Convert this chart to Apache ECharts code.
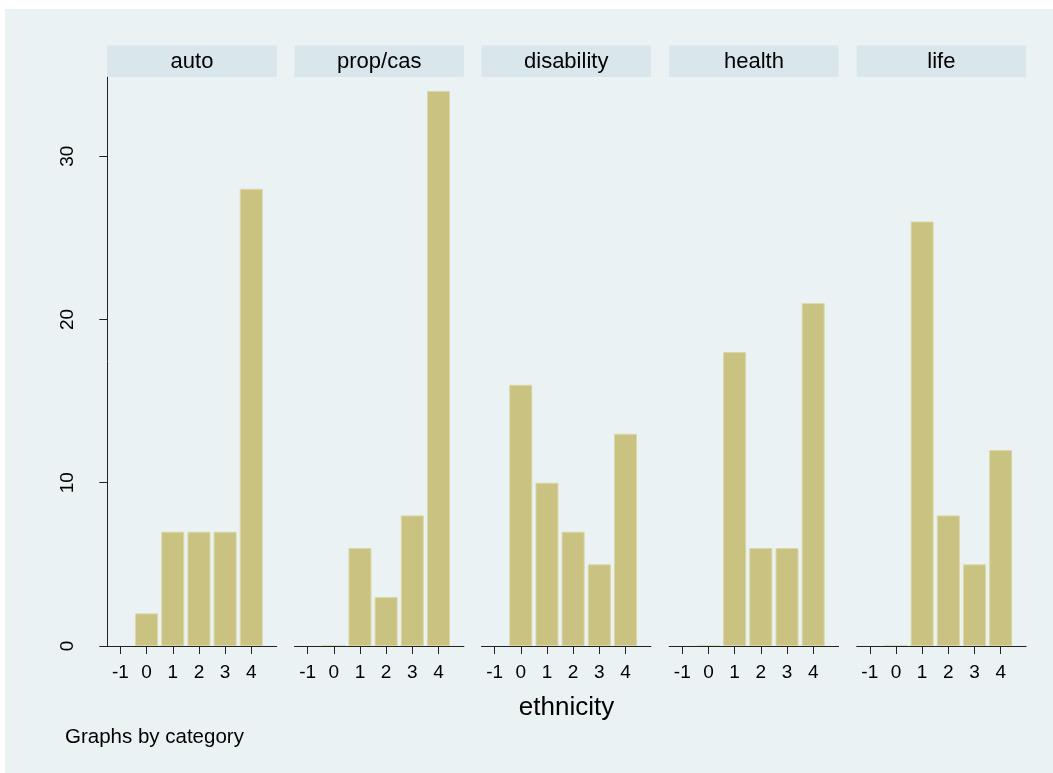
<!DOCTYPE html>
<html>
<head>
<meta charset="utf-8">
<script src="https://cdn.jsdelivr.net/npm/echarts@6/dist/echarts.min.js"></script>
<style>
html,body{margin:0;padding:0;background:#fff;}
#c{width:1053px;height:773px;}
</style>
</head>
<body>
<div id="c"></div>
<script>
const categories = ['auto', 'prop/cas', 'disability', 'health', 'life'];
const bins = [0, 1, 2, 3, 4];
const auto = [2, 7, 7, 7, 28];
const propcas = [0, 6, 3, 8, 34];
const disability = [16, 10, 7, 5, 13];
const health = [0, 18, 6, 6, 21];
const life = [0, 26, 8, 5, 12];
const seriesValues = [auto, propcas, disability, health, life];
const xTicks = [-1, 0, 1, 2, 3, 4];
const yTicks = [0, 10, 20, 30];
const xTitle = 'ethnicity';
const note = 'Graphs by category';

(function () {
const lefts = [107.3, 294.5, 481.5, 669.2, 856.7];
const pw = 169.4, gTop = 77, ph = 569;
const font = 'Liberation Sans, Arial, sans-serif';

const grids = [], xAxes = [], yAxes = [], series = [], graphics = [];
categories.forEach((cat, i) => {
  grids.push({left: lefts[i], top: gTop, width: pw, height: ph, show: true,
    backgroundColor: '#ffffff', borderWidth: 0, containLabel: false});
  xAxes.push({type: 'value', gridIndex: i, min: -1.5, max: 4.97, z: 5,
    axisLine: {show: true, onZero: false, lineStyle: {color: '#222', width: 1}},
    axisTick: {show: true, length: 8, customValues: xTicks, lineStyle: {color: '#222'}},
    axisLabel: {show: true, customValues: xTicks, margin: 17, color: '#000', fontSize: 19, fontFamily: font},
    splitLine: {show: false}});
  yAxes.push({type: 'value', gridIndex: i, min: 0, max: 34.85, interval: 10,
    axisLine: {show: i === 0, onZero: false, lineStyle: {color: '#222', width: 1}},
    axisTick: {show: i === 0, length: 8, customValues: yTicks, lineStyle: {color: '#222'}},
    axisLabel: {show: i === 0, customValues: yTicks, rotate: 90, margin: 30, color: '#000', fontSize: 19, fontFamily: font, align: 'center', verticalAlign: 'bottom'},
    splitLine: {show: true, lineStyle: {color: '#eaf2f3', width: 1.5}}});
  series.push({type: 'bar', xAxisIndex: i, yAxisIndex: i, barWidth: 23, z: 2,
    data: bins.map((b, k) => [b, seriesValues[i][k]]),
    itemStyle: {color: '#c9c281', borderColor: '#dbd7a6', borderWidth: 1},
    silent: true, animation: false});
  graphics.push({type: 'rect', shape: {x: lefts[i], y: 45.5, width: pw, height: 31.5},
    style: {fill: '#d9e6eb'}, z: 1});
  graphics.push({type: 'text', x: lefts[i] + pw / 2, y: 62,
    style: {text: cat, fill: '#000', font: '22px ' + font, textAlign: 'center', textVerticalAlign: 'middle'}, z: 2});
});
graphics.unshift({type: 'rect', shape: {x: 5, y: 9, width: 1048, height: 764}, style: {fill: '#eaf2f3'}, z: 0});
graphics.push({type: 'text', x: 566.5, y: 708, style: {text: xTitle, fill: '#000', font: '26px ' + font, textAlign: 'center', textVerticalAlign: 'middle'}, z: 2});
graphics.push({type: 'text', x: 65, y: 737, style: {text: note, fill: '#000', font: '20.5px ' + font, textAlign: 'left', textVerticalAlign: 'middle'}, z: 2});

const chart = echarts.init(document.getElementById('c'));
chart.setOption({
  animation: false,
  backgroundColor: '#ffffff',
  graphic: {elements: graphics},
  grid: grids, xAxis: xAxes, yAxis: yAxes, series: series
});
})();
</script>
</body>
</html>
